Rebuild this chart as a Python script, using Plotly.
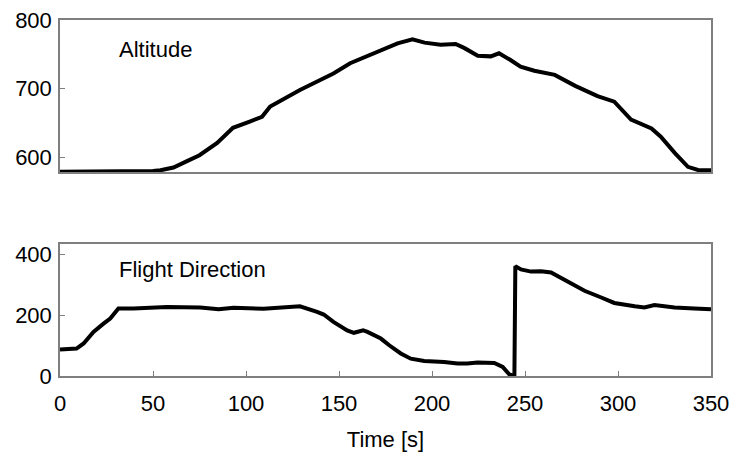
import plotly.graph_objects as go

# Altitude series (time [s], altitude)
alt_time = [0, 10, 20, 30, 40, 50, 54, 61, 68, 75, 84.5, 93, 102, 108.6, 113, 120, 129, 138, 147,
            156, 165, 174.5, 181.5, 189.5, 196, 204.6, 212.7, 217.5, 224.6, 231.6, 236, 242,
            247.6, 255, 266, 277, 289, 298, 307, 318, 323, 330.6, 337.6, 343, 350]
altitude = [579, 579, 579, 580, 579, 580, 581, 585, 594, 603, 621, 643, 652, 659, 674, 685, 698, 710, 722,
            737, 747, 759, 766, 772, 767, 764, 765, 759, 748, 747, 751.5, 742,
            732, 726, 720, 704, 689, 681, 655, 642, 630, 606, 586, 581.5, 581]

# Flight direction series (time [s], direction)
dir_time = [0, 8.9, 12.7, 18, 23.4, 27, 31.4, 39.5, 57.5, 75.4, 85.3, 93.3, 109.5, 120, 129,
            138.2, 141.8, 147, 154.4, 158, 163, 165.3, 172.5, 177, 183.2, 188.6, 195.8, 206.5,
            213.7, 219, 224.5, 233.5, 238, 241.6, 244.3, 244.8, 247.8, 253.2, 258.6, 264, 273,
            282, 291, 298, 309, 314.2, 319.6, 330.4, 341, 350]
direction = [87, 90, 107, 145, 172, 189, 222, 222, 227, 225, 219, 224, 221, 225, 229,
             211, 202, 178, 150, 142, 150, 145, 123, 101, 74, 57, 49, 46,
             41, 41, 44, 43, 30, 5, 0, 361, 350, 343, 344, 340, 310,
             280, 258, 240, 229, 225, 233, 225, 222, 219]

x_ticks = [0, 50, 100, 150, 200, 250, 300, 350]
alt_ticks = [600, 700, 800]
dir_ticks = [0, 200, 400]

FONT = "Liberation Sans, Arial, sans-serif"
FS = 22
line_style = dict(color="black", width=4)

fig = go.Figure()
fig.add_trace(go.Scatter(x=alt_time, y=altitude, mode="lines", line=line_style,
                         xaxis="x", yaxis="y", showlegend=False))
fig.add_trace(go.Scatter(x=dir_time, y=direction, mode="lines", line=line_style,
                         xaxis="x2", yaxis="y2", showlegend=False))

axis_common = dict(showgrid=False, zeroline=False, showline=True, linecolor="#7f7f7f",
                   linewidth=1.5, mirror=True, ticks="inside", tickcolor="#7f7f7f",
                   automargin=False,
                   tickfont=dict(family=FONT, size=FS, color="black"))

fig.update_layout(
    width=734, height=457,
    margin=dict(l=60, r=23, t=20, b=81, autoexpand=False),
    paper_bgcolor="white", plot_bgcolor="white",
    xaxis=dict(domain=[0, 1], range=[0, 350], anchor="y", showticklabels=False,
               tickvals=x_ticks, ticklen=0, **axis_common),
    yaxis=dict(domain=[0.573, 1], range=[578.5, 800], anchor="x", tickvals=alt_ticks,
               ticklen=5, ticklabelstandoff=2, **axis_common),
    xaxis2=dict(domain=[0, 1], range=[0, 350], anchor="y2", tickvals=x_ticks, ticklen=5,
                ticklabelstandoff=7,
                title=dict(text="Time [s]", font=dict(family=FONT, size=FS, color="black"), standoff=16),
                **axis_common),
    yaxis2=dict(domain=[0, 0.371], range=[0, 434], anchor="x2", tickvals=dir_ticks,
                ticklen=5, ticklabelstandoff=2, **axis_common),
    annotations=[
        dict(text="Altitude", x=0.087, y=0.918, xref="paper", yref="paper", xanchor="left",
             yanchor="middle", showarrow=False, font=dict(family=FONT, size=FS, color="black")),
        dict(text="Flight Direction", x=0.087, y=0.298, xref="paper", yref="paper", xanchor="left",
             yanchor="middle", showarrow=False, font=dict(family=FONT, size=FS, color="black")),
    ],
)

fig.write_html("out.html")
